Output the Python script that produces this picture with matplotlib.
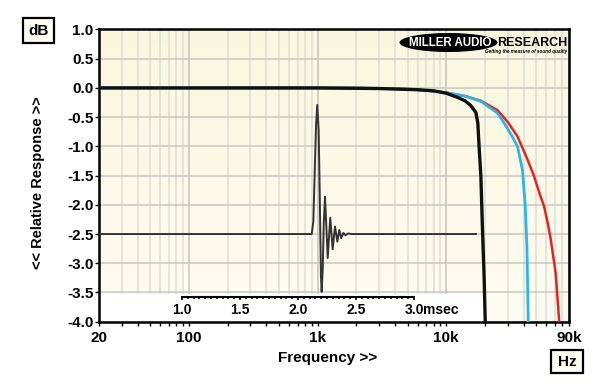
import numpy as np
import matplotlib.pyplot as plt
from matplotlib.patches import Ellipse, Rectangle
from matplotlib.colors import LinearSegmentedColormap
from matplotlib.ticker import NullFormatter

plt.rcParams['font.family'] = ['Liberation Sans', 'DejaVu Sans']
plt.rcParams['font.weight'] = 'bold'

# frequency responses (Hz, dB)
freq_red = [20, 2000, 5000, 7600, 10000, 14000, 18600, 25000, 30000, 35800,
            42000, 48000, 53000, 57700, 62000, 65000, 71000, 75500]
db_red = [0, 0, -0.02, -0.05, -0.08, -0.14, -0.22, -0.38, -0.58, -0.83,
          -1.18, -1.5, -1.8, -2.03, -2.35, -2.6, -3.18, -4.0]

freq_blue = [20, 2000, 5000, 7600, 10000, 14000, 18600, 25000, 28200, 32000,
             35800, 39100, 41000, 42400, 43400]
db_blue = [0, 0, -0.02, -0.05, -0.08, -0.14, -0.23, -0.43, -0.6, -0.8,
           -1.0, -1.4, -1.97, -2.72, -4.0]

freq_black = [20, 1000, 3000, 6000, 8000, 10000, 12200, 14000, 15500, 17000,
              17600, 18000, 18600, 19100, 19700, 20100]
db_black = [0, 0, -0.01, -0.03, -0.05, -0.09, -0.16, -0.22, -0.3, -0.42,
            -0.6, -1.0, -1.52, -2.37, -3.23, -4.0]

# impulse response inset (msec, plotted on the dB scale)
imp_t = [0.284, 2.118, 2.132, 2.144, 2.155, 2.166, 2.178, 2.187, 2.198, 2.204,
         2.213, 2.222, 2.233, 2.256, 2.278, 2.299, 2.319, 2.339, 2.356, 2.373,
         2.391, 2.408, 2.434, 2.463, 3.534]
imp_db = [-2.5, -2.5, -2.29, -1.46, -0.66, -0.29, -0.72, -1.75, -3.23, -3.49,
          -3.12, -2.32, -1.86, -2.91, -2.22, -2.76, -2.37, -2.63, -2.43, -2.57,
          -2.48, -2.52, -2.49, -2.5, -2.5]

xticks = [20, 100, 1000, 10000, 90000]
xlabels = ['20', '100', '1k', '10k', '90k']
yticks = np.arange(-4, 1.01, 0.5)
tticks = [1.0, 1.5, 2.0, 2.5, 3.0]

W, H = 600, 389
def fx(px):
    return px / W
def fy(py):
    return 1 - py / H

fig = plt.figure(figsize=(6, 3.89), dpi=100)
L, R, T, B = 99, 569, 29.5, 321.7
rect = [fx(L), fy(B), (R - L) / W, (B - T) / H]
ax = fig.add_axes(rect)

# cream background, slightly yellower at top
cmap = LinearSegmentedColormap.from_list('bg', ['#FDFCF2', '#FAF6DE'])
ax.imshow(np.linspace(0, 1, 100)[:, None], extent=[0, 1, 0, 1], transform=ax.transAxes,
          cmap=cmap, aspect='auto', origin='lower', zorder=0)

ax.set_xscale('log')
ax.set_xlim(20, 90000)
ax.set_ylim(-4, 1)

# white strip under the time scale
ax.add_patch(Rectangle((20, -4.0), 20000 - 20, 0.48, facecolor='white',
                       edgecolor='none', zorder=1))

ax.plot(freq_red, db_red, color='#E5231B', lw=1.8, zorder=3)
ax.plot(freq_blue, db_blue, color='#2DB5E8', lw=2.0, zorder=3.1)
ax.plot(freq_black, db_black, color='#111111', lw=2.4, zorder=3.2)

minor = [m * d for d in (10, 100, 1000, 10000) for m in range(2, 10)
         if 20 < m * d < 90000 and m * d not in xticks]
ax.set_xticks(xticks)
ax.set_xticklabels(xlabels, fontsize=11, fontweight='bold')
ax.set_xticks(minor, minor=True)
ax.xaxis.set_minor_formatter(NullFormatter())
ax.set_yticks(yticks)
ax.set_yticklabels([f'{v:.1f}' for v in yticks], fontsize=11, fontweight='bold')
ax.tick_params(axis='x', which='both', direction='out', length=3, width=1, pad=3.5)
ax.tick_params(axis='y', direction='out', length=3, width=1, pad=1)

ax.set_axisbelow(True)
ax.grid(which='minor', axis='x', color='#DEDED6', lw=1.1)
ax.grid(which='major', axis='x', color='#C4C4BE', lw=1.1)
ax.grid(which='major', axis='y', color='#C8C8C2', lw=1.1)
for s in ax.spines.values():
    s.set_linewidth(1.8)

# impulse overlay
def t_of(px):
    return 1 + (px - 182) / 116
ax2 = fig.add_axes(rect)
ax2.set_xlim(t_of(L), t_of(R))
ax2.set_ylim(-4, 1)
ax2.axis('off')
ax2.plot(imp_t, imp_db, color='#333333', lw=1.4)

# time scale of the inset
ax3 = fig.add_axes([fx(182), fy(297), (414 - 182) / W, 0.001])
ax3.patch.set_visible(False)
for k in ('top', 'left', 'right'):
    ax3.spines[k].set_visible(False)
ax3.spines['bottom'].set_linewidth(1.5)
ax3.set_xlim(1, 3)
ax3.set_yticks([])
ax3.set_xticks(tticks)
ax3.set_xticklabels([f'{v:.1f}' for v in tticks], fontsize=10, fontweight='bold')
ax3.set_xticks(np.arange(1, 3.001, 0.05), minor=True)
ax3.tick_params(axis='x', which='major', direction='out', length=2.5, width=1.2, pad=2)
ax3.tick_params(axis='x', which='minor', direction='out', length=1.5, width=1.2)
fig.text(fx(422.5), fy(297 + 3.5 + 2.8), 'msec', fontsize=10, fontweight='bold',
         ha='left', va='top')

# axis titles
fig.text(fx(38), fy(183), '<< Relative Response >>', rotation=90, fontsize=10.5,
         fontweight='bold', ha='center', va='center')
fig.text(fx(328), fy(358), 'Frequency >>', fontsize=11, fontweight='bold',
         ha='center', va='center')

# unit boxes
for (x0, y0, x1, y1, s) in [(23, 18, 54, 43, 'dB'), (551, 350, 583, 373, 'Hz')]:
    fig.add_artist(Rectangle((fx(x0), fy(y1)), (x1 - x0) / W, (y1 - y0) / H,
                             transform=fig.transFigure, facecolor='#FFFFF2',
                             edgecolor='black', lw=1.6))
    fig.text(fx((x0 + x1) / 2), fy((y0 + y1) / 2 + 0.5), s, fontsize=11,
             fontweight='bold', ha='center', va='center')

# logo
fig.add_artist(Ellipse((fx(448.5), fy(42.5)), 98 / W, 19 / H,
                       transform=fig.transFigure, facecolor='black', edgecolor='none'))
fig.text(fx(450), fy(42.5), 'MILLER AUDIO', color='white', fontsize=8.3,
         fontweight='bold', ha='center', va='center')
fig.text(fx(497), fy(42.5), 'RESEARCH', color='black', fontsize=9,
         fontweight='bold', ha='left', va='center')
fig.text(fx(567), fy(51.5), 'Getting the measure of sound quality', fontsize=3.3,
         fontweight='bold', style='italic', ha='right', va='center')

fig.savefig('out.png', dpi=100)
